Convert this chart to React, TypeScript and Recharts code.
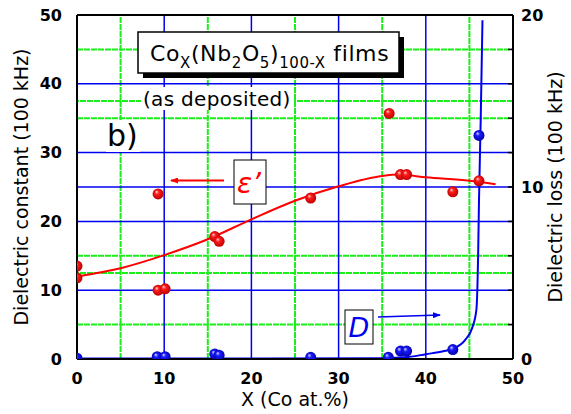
import React from 'react';
import { ComposedChart, Line, Scatter, XAxis, YAxis, ReferenceLine } from 'recharts';

// measured points: dielectric constant (left axis) and dielectric loss (right axis)
const EPS_POINTS = [
  { x: 0, y: 13.5 }, { x: 0, y: 11.8 }, { x: 9.3, y: 24.0 }, { x: 9.3, y: 10.0 }, { x: 10.1, y: 10.2 },
  { x: 15.8, y: 17.8 }, { x: 16.3, y: 17.1 }, { x: 26.8, y: 23.4 }, { x: 35.8, y: 35.7 },
  { x: 37.1, y: 26.8 }, { x: 37.8, y: 26.8 }, { x: 43.1, y: 24.3 }, { x: 46.1, y: 25.9 },
];
const D_POINTS = [
  { x: 0, y: 0.05 }, { x: 9.2, y: 0.13 }, { x: 10.1, y: 0.13 }, { x: 15.8, y: 0.29 }, { x: 16.3, y: 0.22 },
  { x: 26.8, y: 0.1 }, { x: 35.7, y: 0.1 }, { x: 37.1, y: 0.46 }, { x: 37.8, y: 0.46 },
  { x: 43.1, y: 0.55 }, { x: 46.1, y: 13.0 },
];
// fitted curves
const EPS_FIT = [
  { x: 0, y: 12.0 }, { x: 5, y: 13.2 }, { x: 10, y: 15.1 }, { x: 15, y: 17.4 }, { x: 20, y: 20.3 },
  { x: 25, y: 23.0 }, { x: 30, y: 25.1 }, { x: 35, y: 26.6 }, { x: 37, y: 26.8 }, { x: 40, y: 26.4 },
  { x: 45, y: 25.9 }, { x: 48, y: 25.4 },
];
const D_FIT = [
  { x: 0, y: 0.03 }, { x: 20, y: 0.03 }, { x: 35, y: 0.05 }, { x: 38, y: 0.12 }, { x: 40, y: 0.28 },
  { x: 42, y: 0.45 }, { x: 43.2, y: 0.62 }, { x: 44.5, y: 1.1 }, { x: 45.3, y: 1.78 }, { x: 45.8, y: 2.85 },
  { x: 46.0, y: 6.0 }, { x: 46.1, y: 9.2 }, { x: 46.3, y: 14.0 }, { x: 46.5, y: 19.7 },
];

const X_TICKS = [0, 10, 20, 30, 40, 50];
const LEFT_TICKS = [0, 10, 20, 30, 40, 50];
const RIGHT_TICKS = [0, 2, 4, 6, 8, 10, 12, 14, 16, 18, 20];
const RIGHT_LABELS = [0, 10, 20];

const GREEN_X = [5, 15, 25, 35, 45];
const BLUE_X = [10, 20, 30, 40];
const GREEN_LEFT_Y = [5, 15, 35, 45];
const GREEN_RIGHT_Y = [5, 15];
const BLUE_LEFT_Y = [10, 20, 30, 40];
const BLUE_RIGHT_Y = [10];

const FONT = '"DejaVu Sans", sans-serif';
const GREEN = '#19f019';
const BLUE = '#0000f0';

const tickStyle = { fill: '#000', fontSize: 16, fontWeight: 'bold', fontFamily: FONT };

const Ball = (color: string) => (p: any) => (
  <circle cx={p.cx} cy={p.cy} r={5.5} fill={`url(#${color})`} />
);

const RightTick = (p: any) => {
  const v = p.payload.value;
  return (
    <g>
      <line x1={p.x - 13} x2={p.x - 8} y1={p.y} y2={p.y} stroke="#000" strokeWidth={1.5} />
      {RIGHT_LABELS.includes(v) && (
        <text x={p.x} y={p.y} dy={6} textAnchor="start" {...tickStyle}>{v}</text>
      )}
    </g>
  );
};

export default function App() {
  return (
    <div style={{ position: 'absolute', left: 0, top: 0, width: 571, height: 414, background: '#fff' }}>
      <ComposedChart width={571} height={414} margin={{ top: 15, right: 0, bottom: 0, left: 0 }}>
        <defs>
          <radialGradient id="redBall" cx="0.5" cy="0.5" r="0.55" fx="0.35" fy="0.3">
            <stop offset="0" stopColor="#ffd0d0" />
            <stop offset="0.35" stopColor="#ff1a1a" />
            <stop offset="1" stopColor="#b00000" />
          </radialGradient>
          <radialGradient id="blueBall" cx="0.5" cy="0.5" r="0.55" fx="0.35" fy="0.3">
            <stop offset="0" stopColor="#d8d8ff" />
            <stop offset="0.35" stopColor="#1a1aff" />
            <stop offset="1" stopColor="#0000a0" />
          </radialGradient>
        </defs>
        <XAxis
          dataKey="x" type="number" domain={[0, 50]} ticks={X_TICKS} interval={0} allowDataOverflow
          height={55} tickLine={false} tickMargin={8} tick={tickStyle}
          axisLine={{ stroke: '#000', strokeWidth: 2 }}
          label={{ value: 'X (Co at.%)', position: 'insideBottom', offset: 8, style: { fill: '#000', fontSize: 19, fontFamily: FONT } }}
        />
        <YAxis
          yAxisId="left" dataKey="y" type="number" domain={[0, 50]} ticks={LEFT_TICKS} interval={0} allowDataOverflow
          width={77} tickLine={false} tickMargin={9} tick={tickStyle}
          axisLine={{ stroke: '#000', strokeWidth: 2 }}
          label={{ value: 'Dielectric constant (100 kHz)', angle: -90, position: 'insideLeft', offset: 21, style: { textAnchor: 'middle', fill: '#000', fontSize: 19, fontFamily: FONT } }}
        />
        <YAxis
          yAxisId="right" orientation="right" dataKey="y" type="number" domain={[0, 20]} ticks={RIGHT_TICKS} interval={0} allowDataOverflow
          width={58} tickLine={false} tickSize={0} tickMargin={8} tick={RightTick}
          axisLine={{ stroke: '#000', strokeWidth: 2 }}
          label={{ value: 'Dielectric loss (100 kHz)', angle: -90, position: 'insideRight', offset: 16, style: { textAnchor: 'middle', fill: '#000', fontSize: 19, fontFamily: FONT } }}
        />

        {GREEN_X.map(v => <ReferenceLine key={'gx' + v} x={v} yAxisId="left" stroke={GREEN} strokeWidth={2} strokeDasharray="6 1" />)}
        {GREEN_LEFT_Y.map(v => <ReferenceLine key={'gl' + v} y={v} yAxisId="left" stroke={GREEN} strokeWidth={2} strokeDasharray="6 1" />)}
        {GREEN_RIGHT_Y.map(v => <ReferenceLine key={'gr' + v} y={v} yAxisId="right" stroke={GREEN} strokeWidth={2} strokeDasharray="6 1" />)}
        {BLUE_X.map(v => <ReferenceLine key={'bx' + v} x={v} yAxisId="left" stroke={BLUE} strokeWidth={1.5} />)}
        {BLUE_LEFT_Y.map(v => <ReferenceLine key={'bl' + v} y={v} yAxisId="left" stroke={BLUE} strokeWidth={1.5} />)}
        {BLUE_RIGHT_Y.map(v => <ReferenceLine key={'br' + v} y={v} yAxisId="right" stroke={BLUE} strokeWidth={1.5} />)}
        <ReferenceLine y={50} yAxisId="left" stroke="#000" strokeWidth={2} />

        <Line data={EPS_FIT} dataKey="y" yAxisId="left" type="monotone" stroke="#ff0000" strokeWidth={2} dot={false} isAnimationActive={false} />
        <Line data={D_FIT} dataKey="y" yAxisId="right" type="monotone" stroke={BLUE} strokeWidth={2} dot={false} isAnimationActive={false} />
        <Scatter data={EPS_POINTS} dataKey="y" yAxisId="left" shape={Ball('redBall')} isAnimationActive={false} />
        <Scatter data={D_POINTS} dataKey="y" yAxisId="right" shape={Ball('blueBall')} isAnimationActive={false} />
      </ComposedChart>

      <svg width={571} height={414} style={{ position: 'absolute', left: 0, top: 0, pointerEvents: 'none' }}>
        <defs>
          <marker id="arrRed" markerWidth="8" markerHeight="6" refX="7" refY="3" orient="auto" markerUnits="userSpaceOnUse">
            <path d="M0,0 L8,3 L0,6 z" fill="#ff0000" />
          </marker>
          <marker id="arrBlue" markerWidth="8" markerHeight="6" refX="7" refY="3" orient="auto" markerUnits="userSpaceOnUse">
            <path d="M0,0 L8,3 L0,6 z" fill={BLUE} />
          </marker>
        </defs>
        <rect x={143} y={37} width={261} height={41} fill="#000" />
        <rect x={138} y={32} width={261} height={41} fill="#fff" stroke="#000" strokeWidth={1.5} />
        <text x={150} y={61} fontSize={22} fontFamily={FONT} fill="#000" letterSpacing={0.6}>
          Co<tspan fontSize={15} dy={7}>X</tspan><tspan dy={-7}>(Nb</tspan><tspan fontSize={15} dy={7}>2</tspan>
          <tspan dy={-7}>O</tspan><tspan fontSize={15} dy={7}>5</tspan><tspan dy={-7}>)</tspan>
          <tspan fontSize={15} dy={7}>100-X</tspan><tspan dy={-7}> films</tspan>
        </text>
        <rect x={141} y={87} width={153} height={23} fill="#fff" />
        <text x={143} y={106} fontSize={20} fontFamily={FONT} fill="#000" letterSpacing={0.3}>(as deposited)</text>
        <rect x={106} y={120} width={34} height={32} fill="#fff" />
        <text x={107} y={146} fontSize={30} fontFamily={FONT} fill="#000">b)</text>

        <line x1={224} y1={180.5} x2={171} y2={180.5} stroke="#ff0000" strokeWidth={2} markerEnd="url(#arrRed)" />
        <rect x={234} y={160} width={32} height={44} fill="#fff" stroke="#000" strokeWidth={1} />
        <text x={249} y={193} textAnchor="middle" fontSize={28} fontStyle="italic" fontFamily={FONT} fill="#ff0000">ε’</text>

        <line x1={378} y1={317} x2={440} y2={315} stroke={BLUE} strokeWidth={1.5} markerEnd="url(#arrBlue)" />
        <rect x={345} y={310} width={28} height={34} fill="#fff" stroke="#000" strokeWidth={1} />
        <text x={359} y={337} textAnchor="middle" fontSize={27} fontStyle="italic" fontFamily={FONT} fill={BLUE}>D</text>
      </svg>
    </div>
  );
}
